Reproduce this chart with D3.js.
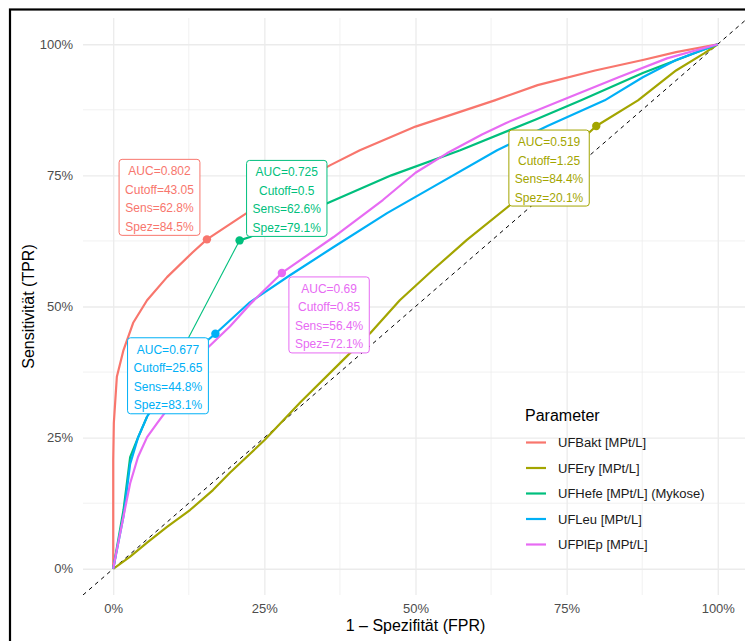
<!DOCTYPE html>
<html lang="de">
<head>
  <meta charset="UTF-8">
  <title>ROC-Kurven</title>
  <script src="https://d3js.org/d3.v7.min.js"></script>
  <style>
    body { margin: 0; background: #fff; }
    #chart { display: block; }
    text { font-family: "Liberation Sans", Arial, sans-serif; }
  </style>
</head>
<body>
<div id="chart"></div>
<script>
  // Parameter (legend order) and ggplot hue colours
  const params = ["UFBakt [MPt/L]", "UFEry [MPt/L]", "UFHefe [MPt/L] (Mykose)", "UFLeu [MPt/L]", "UFPlEp [MPt/L]"];
  const colors = ["#F8766D", "#A3A500", "#00BF7D", "#00B0F6", "#E76BF3"];

  // ROC curves, [FPR, TPR]
  const rocBakt = [[0,0],[0,0.208],[0.001,0.278],[0.006,0.366],[0.017,0.417],[0.033,0.469],[0.056,0.512],[0.089,0.556],[0.132,0.604],[0.155,0.628],[0.21,0.67],[0.25,0.70],[0.309,0.738],[0.36,0.77],[0.408,0.798],[0.50,0.843],[0.631,0.893],[0.702,0.922],[0.797,0.95],[0.876,0.97],[0.931,0.985],[1,1]];
  const rocEry = [[0,0],[0.028,0.023],[0.056,0.05],[0.089,0.08],[0.127,0.112],[0.165,0.15],[0.193,0.183],[0.25,0.245],[0.31,0.318],[0.375,0.392],[0.425,0.449],[0.474,0.512],[0.529,0.57],[0.585,0.627],[0.656,0.693],[0.72,0.76],[0.799,0.844],[0.868,0.893],[0.931,0.95],[0.978,0.983],[1,1]];
  const rocHefe = [[0,0],[0.017,0.112],[0.028,0.213],[0.041,0.25],[0.056,0.29],[0.209,0.626],[0.225,0.632],[0.354,0.697],[0.46,0.75],[0.574,0.798],[0.70,0.857],[0.774,0.893],[0.876,0.945],[1,1]];
  const rocLeu = [[0,0],[0.002,0.012],[0.017,0.10],[0.028,0.20],[0.041,0.25],[0.056,0.29],[0.09,0.35],[0.13,0.41],[0.169,0.448],[0.226,0.508],[0.293,0.56],[0.364,0.613],[0.453,0.678],[0.529,0.728],[0.635,0.798],[0.72,0.845],[0.813,0.893],[0.876,0.937],[0.931,0.97],[1,1]];
  const rocPlEp = [[0,0],[0.006,0.036],[0.017,0.10],[0.028,0.163],[0.041,0.213],[0.056,0.251],[0.073,0.278],[0.089,0.303],[0.111,0.35],[0.127,0.385],[0.155,0.42],[0.193,0.462],[0.226,0.504],[0.279,0.564],[0.364,0.632],[0.446,0.703],[0.50,0.755],[0.552,0.792],[0.61,0.828],[0.65,0.85],[0.742,0.893],[0.836,0.937],[0.916,0.973],[1,1]];
  const curves = [rocBakt, rocEry, rocHefe, rocLeu, rocPlEp];

  // optimal cutoff per parameter
  const auc = [0.802, 0.519, 0.725, 0.677, 0.69];
  const cutoff = [43.05, 1.25, 0.5, 25.65, 0.85];
  const sens = [62.8, 84.4, 62.6, 44.8, 56.4];
  const spez = [84.5, 20.1, 79.1, 83.1, 72.1];

  // axis breaks
  const majorBreaks = [0, 0.25, 0.5, 0.75, 1];
  const minorBreaks = [0.125, 0.375, 0.625, 0.875];

  const width = 745;
  const height = 641;
  const panel = { left: 83, right: 748, top: 18, bottom: 595 };

  // where each label box sits relative to its point (corner of box nearest the point)
  const labelCorner = ["br", "tr", "bl", "tr", "tl"];

  const x = d3.scaleLinear().domain([-0.05, 1.05]).range([panel.left, panel.right]);
  const y = d3.scaleLinear().domain([-0.05, 1.05]).range([panel.bottom, panel.top]);

  const svg = d3.select("#chart")
    .append("svg")
    .attr("width", width)
    .attr("height", height);

  svg.append("rect").attr("width", width).attr("height", height).attr("fill", "#fff");

  svg.append("clipPath").attr("id", "panel-clip")
    .append("rect")
    .attr("x", panel.left).attr("y", panel.top)
    .attr("width", panel.right - panel.left).attr("height", panel.bottom - panel.top);

  // grid lines
  const grid = svg.append("g");
  grid.selectAll(".vminor").data(minorBreaks).join("line")
    .attr("x1", d => x(d)).attr("x2", d => x(d))
    .attr("y1", panel.top).attr("y2", panel.bottom)
    .attr("stroke", "#EBEBEB").attr("stroke-width", 0.7);
  grid.selectAll(".hminor").data(minorBreaks).join("line")
    .attr("y1", d => y(d)).attr("y2", d => y(d))
    .attr("x1", panel.left).attr("x2", panel.right)
    .attr("stroke", "#EBEBEB").attr("stroke-width", 0.7);
  grid.append("g")
    .attr("transform", `translate(0,${panel.bottom})`)
    .call(d3.axisBottom(x).tickValues(majorBreaks).tickSize(-(panel.bottom - panel.top)).tickFormat(""))
    .call(g => g.select(".domain").remove())
    .selectAll("line").attr("stroke", "#EBEBEB").attr("stroke-width", 1.3);
  grid.append("g")
    .attr("transform", `translate(${panel.left},0)`)
    .call(d3.axisLeft(y).tickValues(majorBreaks).tickSize(-(panel.right - panel.left)).tickFormat(""))
    .call(g => g.select(".domain").remove())
    .selectAll("line").attr("stroke", "#EBEBEB").attr("stroke-width", 1.3);

  const plot = svg.append("g").attr("clip-path", "url(#panel-clip)");

  // diagonal reference
  plot.append("line")
    .attr("x1", x(-0.05)).attr("y1", y(-0.05))
    .attr("x2", x(1.05)).attr("y2", y(1.05))
    .attr("stroke", "#000").attr("stroke-width", 1)
    .attr("stroke-dasharray", "4,4");

  const line = d3.line().x(d => x(d[0])).y(d => y(d[1]));

  function drawPath(pts, col, w) {
    plot.append("path")
      .datum(pts)
      .attr("d", line)
      .attr("fill", "none")
      .attr("stroke", col)
      .attr("stroke-width", w)
      .attr("stroke-linejoin", "round");
  }

  curves.forEach((c, i) => {
    if (i === 2) {
      // the long jump of the Hefe curve is drawn thin in the original
      drawPath(c.slice(0, 5), colors[i], 2.2);
      drawPath(c.slice(4, 6), colors[i], 1.1);
      drawPath(c.slice(5), colors[i], 2.2);
    } else {
      drawPath(c, colors[i], 2.2);
    }
  });

  // cutoff points
  plot.selectAll(".cut").data(params).join("circle")
    .attr("cx", (d, i) => x(1 - spez[i] / 100))
    .attr("cy", (d, i) => y(sens[i] / 100))
    .attr("r", 4.2)
    .attr("fill", (d, i) => colors[i]);

  // labels
  const lineH = 18.5;
  params.forEach((p, i) => {
    const lines = [`AUC=${auc[i]}`, `Cutoff=${cutoff[i]}`, `Sens=${sens[i]}%`, `Spez=${spez[i]}%`];
    const px = x(1 - spez[i] / 100), py = y(sens[i] / 100);
    const g = svg.append("g");
    const box = g.append("rect");
    const texts = g.append("g").selectAll("text").data(lines).join("text")
      .attr("text-anchor", "middle")
      .attr("font-size", 12)
      .attr("fill", colors[i])
      .attr("y", (d, k) => 16 + k * lineH)
      .text(d => d);
    let w = 0;
    texts.each(function() { w = Math.max(w, this.getComputedTextLength()); });
    const bw = w + 12, bh = 76;
    const corner = labelCorner[i];
    const bx = corner[1] === "r" ? px - 7 - bw : px + 7;
    const by = corner[0] === "b" ? py - 4 - bh : py + 4;
    box.attr("width", bw).attr("height", bh)
      .attr("rx", 3).attr("fill", "#fff")
      .attr("stroke", colors[i]).attr("stroke-width", 1);
    texts.attr("x", bw / 2);
    g.attr("transform", `translate(${bx},${by})`);
  });

  // axes
  svg.append("g")
    .attr("transform", `translate(0,${panel.bottom})`)
    .call(d3.axisBottom(x).tickValues(majorBreaks).tickSize(0).tickPadding(9).tickFormat(d3.format(".0%")))
    .call(g => g.select(".domain").remove())
    .selectAll("text")
    .attr("font-size", 13).attr("fill", "#4D4D4D")
    .attr("font-family", "'Liberation Sans', Arial, sans-serif");
  svg.append("g")
    .attr("transform", `translate(${panel.left},0)`)
    .call(d3.axisLeft(y).tickValues(majorBreaks).tickSize(0).tickPadding(10).tickFormat(d3.format(".0%")))
    .call(g => g.select(".domain").remove())
    .selectAll("text")
    .attr("font-size", 13).attr("fill", "#4D4D4D")
    .attr("font-family", "'Liberation Sans', Arial, sans-serif");

  svg.append("text")
    .attr("x", (panel.left + panel.right) / 2).attr("y", 631)
    .attr("text-anchor", "middle").attr("font-size", 16)
    .text("1 – Spezifität (FPR)");
  svg.append("text")
    .attr("transform", `translate(33.5,${(panel.top + panel.bottom) / 2}) rotate(-90)`)
    .attr("text-anchor", "middle").attr("font-size", 16)
    .text("Sensitivität (TPR)");

  // legend
  const legend = svg.append("g").attr("transform", "translate(525,0)");
  legend.append("text").attr("x", 0).attr("y", 421).attr("font-size", 16).text("Parameter");
  const item = legend.selectAll(".item").data(params).join("g")
    .attr("transform", (d, i) => `translate(0,${442.5 + i * 25.5})`);
  item.append("line")
    .attr("x1", 1).attr("x2", 21)
    .attr("stroke", (d, i) => colors[i]).attr("stroke-width", 2.2);
  item.append("text")
    .attr("x", 33).attr("y", 4.6)
    .attr("font-size", 13).attr("fill", "#1A1A1A")
    .text(d => d);

  // outer frame
  svg.append("rect")
    .attr("x", 10).attr("y", 9.5)
    .attr("width", 800).attr("height", 700)
    .attr("fill", "none").attr("stroke", "#000").attr("stroke-width", 2.2);
</script>
</body>
</html>
